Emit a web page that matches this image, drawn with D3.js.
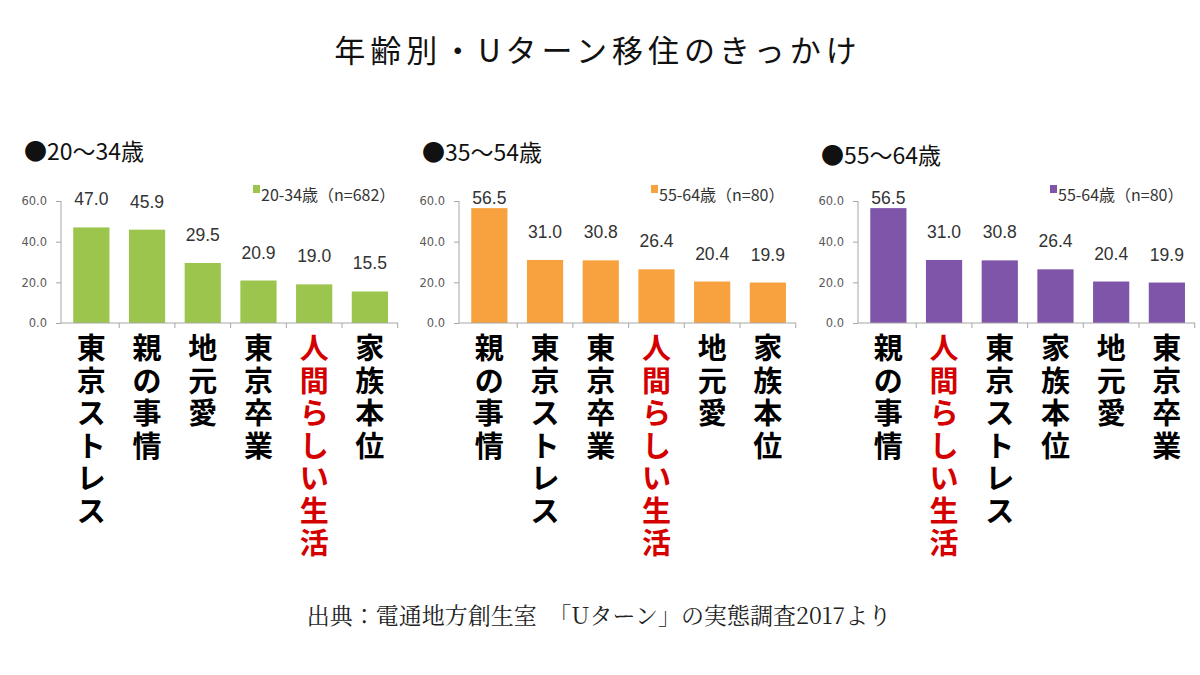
<!DOCTYPE html>
<html><head><meta charset="utf-8">
<script src="https://cdn.jsdelivr.net/npm/d3@7"></script>
<style>
html,body{margin:0;padding:0;background:#fff;}
svg{display:block;}
</style></head>
<body>
<svg id="chart" width="1200" height="675"></svg>
<script>
const title = "年齢別・Uターン移住のきっかけ";
const source = "出典：電通地方創生室　「Uターン」の実態調査2017より";
const yTicks = [0, 20, 40, 60];
const headings = ["●20～34歳", "●35～54歳", "●55～64歳"];
const legends = ["20-34歳（n=682）", "55-64歳（n=80）", "55-64歳（n=80）"];
const colors = ["#9bc54c", "#f7a23e", "#7e55a9"];
const cats1 = ["東京ストレス", "親の事情", "地元愛", "東京卒業", "人間らしい生活", "家族本位"];
const vals1 = [47.0, 45.9, 29.5, 20.9, 19.0, 15.5];
const cats2 = ["親の事情", "東京ストレス", "東京卒業", "人間らしい生活", "地元愛", "家族本位"];
const vals2 = [56.5, 31.0, 30.8, 26.4, 20.4, 19.9];
const cats3 = ["親の事情", "人間らしい生活", "東京ストレス", "家族本位", "地元愛", "東京卒業"];
const vals3 = [56.5, 31.0, 30.8, 26.4, 20.4, 19.9];
const highlight = "人間らしい生活";

const panels = [
  {cats: cats1, vals: vals1, left: 61},
  {cats: cats2, vals: vals2, left: 459},
  {cats: cats3, vals: vals3, left: 858}
];
const plotW = 337;
const svg = d3.select("#chart");
const y = d3.scaleLinear().domain([0, 60]).range([323, 201]);

svg.append("text").attr("x", 598).attr("y", 62).attr("text-anchor", "middle")
  .attr("font-family", "'Noto Sans CJK JP', sans-serif").attr("font-size", 31)
  .attr("letter-spacing", 5).attr("fill", "#111").text(title);

svg.append("text").attr("x", 599).attr("y", 624).attr("text-anchor", "middle")
  .attr("font-family", "'Noto Serif CJK JP', serif, 'Noto Sans CJK JP'").attr("font-size", 23)
  .attr("fill", "#222").text(source);

panels.forEach((p, pi) => {
  const g = svg.append("g");
  const x = d3.scaleBand().domain(p.cats).range([p.left, p.left + plotW])
    .paddingInner(0.35).paddingOuter(0.2).align(0.55);
  // heading
  g.append("text").attr("x", p.left - 37).attr("y", 160 + (pi === 2 ? 4 : pi === 1 ? 1 : 0))
    .attr("font-family", "'Noto Sans CJK JP', sans-serif").attr("font-size", 23)
    .attr("fill", "#111").text(headings[pi]);
  // legend
  g.append("rect").attr("x", p.left + 192).attr("y", 185).attr("width", 7).attr("height", 8)
    .attr("fill", colors[pi]);
  g.append("text").attr("x", p.left + 200).attr("y", 201)
    .attr("font-family", "'Noto Sans CJK JP', sans-serif").attr("font-size", 16)
    .attr("fill", "#333").text(legends[pi]);
  // y axis
  const ya = d3.axisLeft(y).tickValues(yTicks).tickFormat(d3.format(".1f")).tickSize(5).tickPadding(9);
  const ag = g.append("g").attr("transform", `translate(${p.left},0)`).call(ya);
  ag.select(".domain").attr("stroke", "#a6a6a6").attr("d", `M0,${y(0)}V${y(60)}`);
  ag.selectAll(".tick line").attr("stroke", "#a6a6a6");
  ag.selectAll(".tick text").attr("font-family", "'DejaVu Sans', sans-serif")
    .attr("font-size", 11.5).attr("fill", "#595959");
  // bars
  g.selectAll("rect.bar").data(p.cats).enter().append("rect").attr("class", "bar")
    .attr("x", d => x(d)).attr("width", x.bandwidth())
    .attr("y", (d, i) => y(p.vals[i])).attr("height", (d, i) => y(0) - y(p.vals[i]))
    .attr("fill", colors[pi]);
  // x axis
  g.append("line").attr("x1", p.left).attr("x2", p.left + plotW)
    .attr("y1", y(0)).attr("y2", y(0)).attr("stroke", "#a6a6a6");
  d3.range(1, p.cats.length + 1).forEach(i => {
    const xx = x(p.cats[i - 1]) + x.bandwidth() + x.step() * x.paddingInner() / 2;
    g.append("line").attr("x1", xx).attr("x2", xx).attr("y1", y(0)).attr("y2", y(0) + 5)
      .attr("stroke", "#a6a6a6");
  });
  // value labels
  g.selectAll("text.val").data(p.cats).enter().append("text").attr("class", "val")
    .attr("x", d => x(d) + x.bandwidth() / 2)
    .attr("y", (d, i) => Math.max(y(p.vals[i]) - 28, 198) + 6)
    .attr("text-anchor", "middle")
    .attr("font-family", "'Liberation Sans', Arial, sans-serif").attr("font-size", 17.5)
    .attr("fill", "#333").text((d, i) => d3.format(".1f")(p.vals[i]));
  // category labels (vertical, one character per line)
  p.cats.forEach(c => {
    const t = g.append("text").attr("class", "cat").attr("text-anchor", "middle")
      .attr("font-family", "'Noto Sans CJK JP', sans-serif").attr("font-size", 29)
      .attr("font-weight", 700).attr("fill", c === highlight ? "#d40000" : "#000");
    Array.from(c).forEach((ch, k) => {
      t.append("tspan").attr("x", x(c) + x.bandwidth() / 2).attr("y", 359 + k * 32.5).text(ch);
    });
  });
});
</script>
</body></html>
